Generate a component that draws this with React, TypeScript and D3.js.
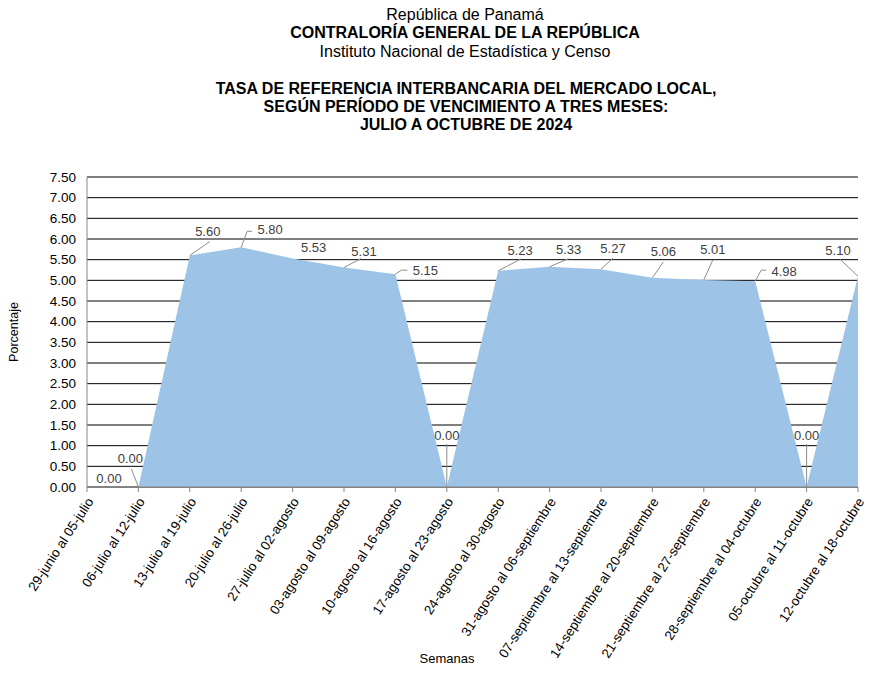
import React from "react";
import * as d3 from "d3";

const categories = [
  "29-junio al 05-julio",
  "06-julio al 12-julio",
  "13-julio al 19-julio",
  "20-julio al 26-julio",
  "27-julio al 02-agosto",
  "03-agosto al 09-agosto",
  "10-agosto al 16-agosto",
  "17-agosto al 23-agosto",
  "24-agosto al 30-agosto",
  "31-agosto al 06-septiembre",
  "07-septiembre al 13-septiembre",
  "14-septiembre al 20-septiembre",
  "21-septiembre al 27-septiembre",
  "28-septiembre al 04-octubre",
  "05-octubre al 11-octubre",
  "12-octubre al 18-octubre",
];
const values = [0, 0, 5.6, 5.8, 5.53, 5.31, 5.15, 0, 5.23, 5.33, 5.27, 5.06, 5.01, 4.98, 0, 5.1];
const yTicks = [0, 0.5, 1, 1.5, 2, 2.5, 3, 3.5, 4, 4.5, 5, 5.5, 6, 6.5, 7, 7.5];
const titleLines = ["República de Panamá", "CONTRALORÍA GENERAL DE LA REPÚBLICA", "Instituto Nacional de Estadística y Censo"];
const subtitleLines = [
  "TASA DE REFERENCIA INTERBANCARIA DEL MERCADO LOCAL,",
  "SEGÚN PERÍODO DE VENCIMIENTO A TRES MESES:",
  "JULIO A OCTUBRE DE 2024",
];

// label placement relative to point: label center offset and leader polyline offsets
const labelLayout: { dx: number; dy: number; leader: [number, number][] }[] = [
  { dx: 22, dy: -9, leader: [] },
  { dx: -8, dy: -29, leader: [[-7, -18]] },
  { dx: 18, dy: -24, leader: [[20, -14]] },
  { dx: 29, dy: -18, leader: [[6, -16], [11, -16]] },
  { dx: 21, dy: -11, leader: [] },
  { dx: 20, dy: -16, leader: [[17, -9]] },
  { dx: 30, dy: -4, leader: [[6, -4], [12, -4]] },
  { dx: 0, dy: -52, leader: [[0, -43]] },
  { dx: 22, dy: -20, leader: [[23, -12]] },
  { dx: 19, dy: -17, leader: [[19, -8]] },
  { dx: 12, dy: -21, leader: [[12, -11]] },
  { dx: 11, dy: -26, leader: [[11, -16]] },
  { dx: 9, dy: -30, leader: [[9, -20]] },
  { dx: 29, dy: -10, leader: [[6, -11], [11, -11]] },
  { dx: 0, dy: -52, leader: [[0, -43]] },
  { dx: -20, dy: -26, leader: [[-18, -17]] },
];

const W = 876;
const H = 675;
const left = 87;
const right = 858;
const top = 177;
const bottom = 487;
const font = "'Liberation Sans', Arial, sans-serif";

export default function App() {
  const x = d3.scalePoint<number>().domain(d3.range(categories.length)).range([left, right]);
  const y = d3.scaleLinear().domain([0, 7.5]).range([bottom, top]);
  const area = d3
    .area<number>()
    .x((_, i) => x(i)!)
    .y0(y(0))
    .y1((d) => y(d));
  const fmt = d3.format(".2f");

  return (
    <svg width={W} height={H} style={{ position: "absolute", left: 0, top: 0, background: "#fff" }} fontFamily={font}>
      <rect x={0} y={0} width={W} height={H} fill="#fff" />
      {titleLines.map((t, i) => (
        <text key={t} x={465} y={19.5 + i * 18.5} textAnchor="middle" fontSize={16} fontWeight={i === 1 ? "bold" : "normal"} fill="#000">
          {t}
        </text>
      ))}
      {subtitleLines.map((t, i) => (
        <text key={t} x={466} y={93.5 + i * 18} textAnchor="middle" fontSize={16} fontWeight="bold" fill="#000">
          {t}
        </text>
      ))}
      {/* gridlines */}
      {yTicks.map((t) => (
        <line key={t} x1={left} x2={right} y1={y(t)} y2={y(t)} stroke="#000" strokeWidth={1} />
      ))}
      <path d={area(values)!} fill="#9DC3E6" />
      {/* axes */}
      <line x1={left} x2={left} y1={top} y2={bottom} stroke="#868686" />
      <line x1={left} x2={right} y1={bottom} y2={bottom} stroke="#868686" />
      {categories.map((c, i) => (
        <line key={c} x1={x(i)} x2={x(i)} y1={bottom} y2={bottom + 5} stroke="#868686" />
      ))}
      {yTicks.map((t) => (
        <text key={t} x={76} y={y(t)} dy="0.35em" textAnchor="end" fontSize={13.5} fill="#000">
          {fmt(t)}
        </text>
      ))}
      {categories.map((c, i) => (
        <text
          key={c}
          transform={`translate(${x(i)! + 3},${bottom + 12}) rotate(-57)`}
          textAnchor="end"
          dy="0.35em"
          fontSize={13.3}
          fill="#000"
        >
          {c}
        </text>
      ))}
      {/* data labels */}
      {values.map((v, i) => {
        const px = x(i)!;
        const py = y(v);
        const L = labelLayout[i];
        const pts: [number, number][] = [[px, py], ...L.leader.map(([a, b]) => [px + a, py + b] as [number, number])];
        return (
          <g key={i}>
            {L.leader.length > 0 && (
              <path d={d3.line()(pts)!} fill="none" stroke="#8c8c8c" strokeWidth={1} />
            )}
            <text x={px + L.dx} y={py + L.dy} dy="0.35em" textAnchor="middle" fontSize={13} fill="#404040">
              {fmt(v)}
            </text>
          </g>
        );
      })}
      <text transform={`translate(18,${(top + bottom) / 2}) rotate(-90)`} textAnchor="middle" fontSize={12.5} fill="#000">
        Porcentaje
      </text>
      <text x={447} y={663} textAnchor="middle" fontSize={13} fill="#000">
        Semanas
      </text>
    </svg>
  );
}
